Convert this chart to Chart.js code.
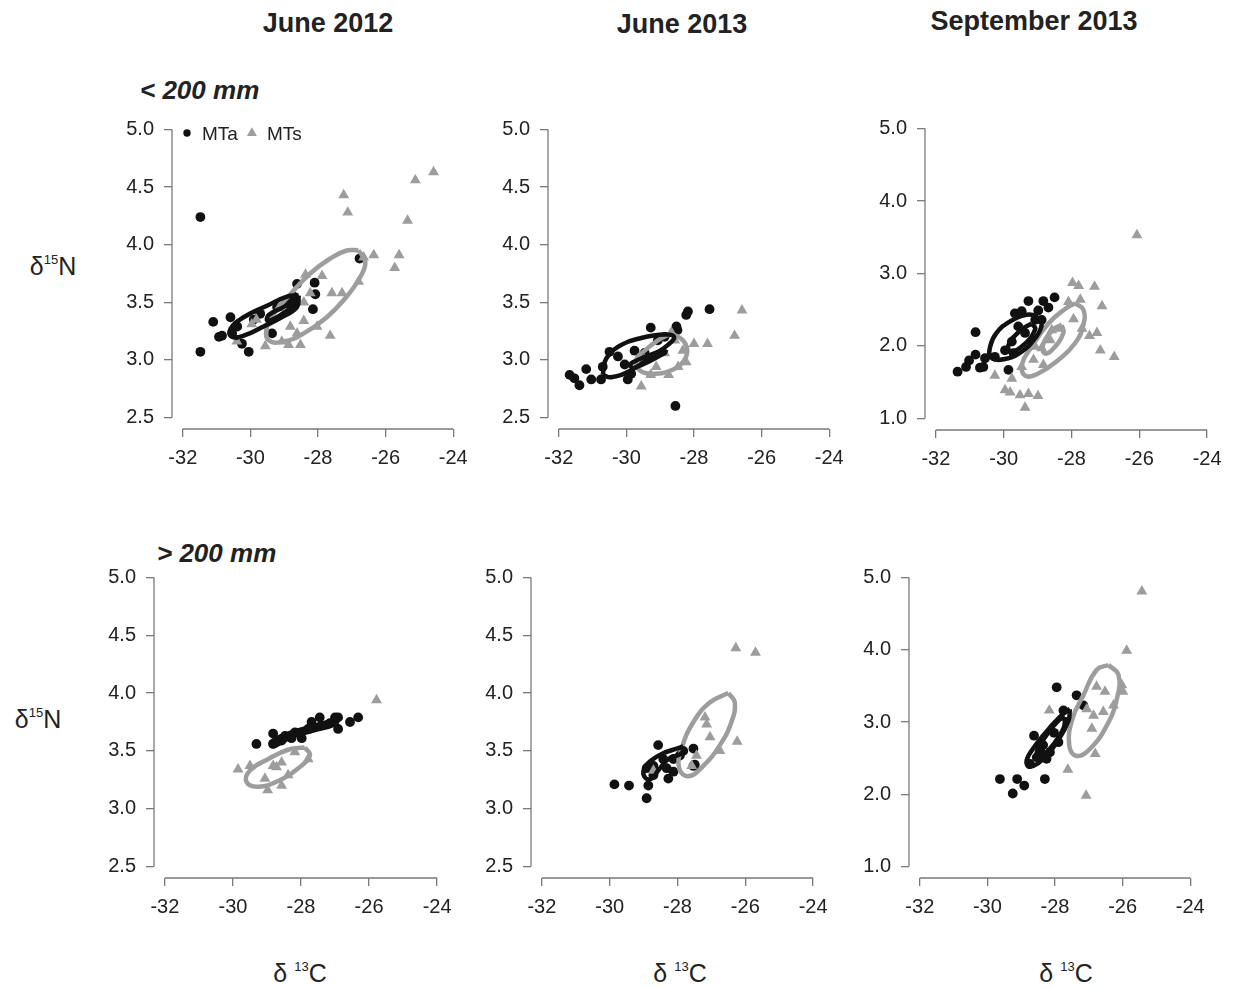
<!DOCTYPE html>
<html><head><meta charset="utf-8">
<script src="https://cdn.jsdelivr.net/npm/chart.js@4.4.0/dist/chart.umd.min.js"></script>
<style>
body{margin:0;background:#fff;width:1234px;height:989px;position:relative;overflow:hidden;font-family:"Liberation Sans",Arial,sans-serif;}
.t{position:absolute;white-space:nowrap;color:#222;transform:translate(-50%,-50%);line-height:1;}
.l{position:absolute;white-space:nowrap;color:#222;transform:translateY(-50%);line-height:1;}
canvas{position:absolute;}
sup{font-size:52%;vertical-align:0.8em;line-height:0;}
</style></head><body>

<div class="t" style="left:328px;top:23px;font-weight:bold;font-size:27px;">June 2012</div>
<div class="t" style="left:682px;top:24px;font-weight:bold;font-size:27px;">June 2013</div>
<div class="t" style="left:1034px;top:21px;font-weight:bold;font-size:27px;">September 2013</div>
<div class="l" style="left:140px;top:90px;font-weight:bold;font-style:italic;font-size:26px;">&lt; 200 mm</div>
<div class="l" style="left:157px;top:553px;font-weight:bold;font-style:italic;font-size:26px;">&gt; 200 mm</div>
<div class="t" style="left:53px;top:266px;font-size:25px;">δ<sup>15</sup>N</div>
<div class="t" style="left:38px;top:719px;font-size:25px;">δ<sup>15</sup>N</div>
<div class="t" style="left:300px;top:973px;font-size:25px;">δ <sup>13</sup>C</div>
<div class="t" style="left:680px;top:973px;font-size:25px;">δ <sup>13</sup>C</div>
<div class="t" style="left:1066px;top:973px;font-size:25px;">δ <sup>13</sup>C</div>

<canvas id="c1"></canvas><canvas id="c2"></canvas><canvas id="c3"></canvas>
<canvas id="c4"></canvas><canvas id="c5"></canvas><canvas id="c6"></canvas>

<script>
// ---------- tick labels ----------
const xTicks = [-32, -30, -28, -26, -24];
const yTicksHalf = [2.5, 3.0, 3.5, 4.0, 4.5, 5.0];
const yTicksOne = [1.0, 2.0, 3.0, 4.0, 5.0];
const seriesNames = ['MTa', 'MTs'];

// ---------- Panel 1: June 2012, < 200 mm ----------
const p1_MTa = [[-31.48,4.24],[-31.48,3.07],[-31.10,3.33],[-30.93,3.20],[-30.84,3.21],[-30.59,3.37],[-30.05,3.07],[-30.54,3.23],[-30.25,3.14],[-28.62,3.66],[-28.10,3.67],[-28.08,3.57],[-28.15,3.44],[-29.36,3.23],[-29.90,3.35],[-30.39,3.29],[-28.87,3.50],[-28.72,3.55],[-26.77,3.88],[-29.71,3.40],[-29.21,3.46]];
const p1_MTs = [[-24.58,4.63],[-25.12,4.56],[-27.24,4.43],[-27.12,4.28],[-25.35,4.21],[-26.35,3.91],[-25.60,3.91],[-25.73,3.80],[-26.65,3.89],[-27.88,3.73],[-28.37,3.74],[-28.23,3.58],[-27.59,3.58],[-27.29,3.58],[-26.80,3.68],[-28.42,3.34],[-28.03,3.29],[-27.64,3.21],[-29.56,3.12],[-28.87,3.13],[-28.52,3.13],[-29.07,3.16],[-30.40,3.16],[-29.96,3.31],[-29.82,3.35],[-28.82,3.29],[-29.16,3.45],[-28.42,3.50],[-28.62,3.23]];
const p1_MTa_ellipse = [[-28.57,3.56],[-28.62,3.46],[-29.01,3.38],[-29.61,3.29],[-30.20,3.21],[-30.55,3.20],[-30.59,3.27],[-30.20,3.37],[-29.51,3.47],[-28.92,3.55]];
const p1_MTs_ellipse = [[-26.80,3.95],[-26.60,3.85],[-26.75,3.72],[-27.15,3.55],[-27.74,3.37],[-28.42,3.23],[-29.01,3.16],[-29.46,3.17],[-29.51,3.29],[-29.31,3.40],[-28.82,3.57],[-28.23,3.75],[-27.64,3.88],[-27.15,3.95]];
const p1_MTa_inner = [[-28.62,3.53],[-28.70,3.48],[-29.16,3.38],[-29.49,3.34],[-29.46,3.39],[-29.01,3.46]];

// ---------- Panel 2: June 2013, < 200 mm ----------
const p2_MTa = [[-31.68,2.87],[-31.54,2.84],[-31.39,2.78],[-31.04,2.83],[-30.75,2.83],[-31.19,2.92],[-30.70,2.94],[-30.50,3.07],[-29.96,2.83],[-30.05,2.96],[-29.28,3.28],[-28.52,3.29],[-28.49,3.26],[-28.23,3.39],[-28.18,3.42],[-27.54,3.44],[-28.55,2.60],[-29.76,3.08],[-29.07,3.17],[-28.87,3.20],[-30.25,3.03],[-29.46,3.06],[-29.86,2.88]];
const p2_MTs = [[-26.58,3.43],[-26.80,3.21],[-27.60,3.14],[-28.00,3.14],[-28.23,2.98],[-29.56,2.77],[-29.28,2.87],[-28.75,2.87],[-28.47,2.94],[-28.67,3.24],[-28.33,3.08],[-28.87,3.06],[-29.12,2.94],[-28.57,3.17],[-29.46,3.00]];
const p2_MTa_ellipse = [[-30.70,2.87],[-30.60,3.01],[-30.15,3.13],[-29.56,3.19],[-28.87,3.22],[-28.59,3.20],[-28.77,3.13],[-29.26,3.03],[-29.86,2.91],[-30.45,2.85]];
const p2_MTs_ellipse = [[-28.67,3.23],[-28.33,3.17],[-28.20,3.08],[-28.33,2.98],[-28.67,2.91],[-29.17,2.88],[-29.61,2.91],[-29.71,3.00],[-29.46,3.08],[-29.07,3.17]];
const p2_MTa_inner = [[-28.82,3.09],[-28.87,3.06],[-29.76,2.93],[-29.88,2.95],[-29.81,2.98],[-28.97,3.08]];

// ---------- Panel 3: September 2013, < 200 mm ----------
const p3_MTa = [[-31.36,1.645],[-31.11,1.71],[-31.02,1.80],[-30.83,2.19],[-30.83,1.88],[-30.70,1.70],[-30.60,1.71],[-30.55,1.83],[-30.26,1.85],[-29.86,1.67],[-29.67,2.45],[-29.47,2.48],[-29.27,2.62],[-28.83,2.62],[-28.68,2.53],[-28.50,2.67],[-28.98,2.49],[-29.57,2.27],[-29.76,2.06],[-29.96,1.94],[-29.37,2.18],[-29.07,2.36],[-29.71,1.90],[-28.88,2.36]];
const p3_MTs = [[-26.07,3.53],[-27.97,2.87],[-27.79,2.83],[-27.32,2.82],[-27.10,2.55],[-27.25,2.18],[-27.47,2.14],[-27.15,1.94],[-26.74,1.85],[-28.09,2.61],[-27.74,2.64],[-27.94,2.37],[-27.69,2.24],[-28.33,2.24],[-28.63,2.08],[-29.07,1.99],[-28.88,1.97],[-29.12,1.81],[-28.83,1.74],[-30.26,1.59],[-29.76,1.55],[-29.96,1.39],[-29.81,1.36],[-29.52,1.32],[-29.27,1.34],[-28.99,1.31],[-29.37,1.15],[-29.47,1.71],[-28.58,2.22]];
const p3_MTa_ellipse = [[-28.98,2.41],[-28.88,2.29],[-29.07,2.11],[-29.47,1.92],[-29.96,1.82],[-30.37,1.84],[-30.40,1.99],[-30.21,2.18],[-29.81,2.34],[-29.32,2.43]];
const p3_MTs_ellipse = [[-27.89,2.59],[-27.65,2.50],[-27.65,2.29],[-27.89,2.04],[-28.38,1.81],[-28.98,1.62],[-29.37,1.59],[-29.45,1.76],[-29.17,1.99],[-28.68,2.31],[-28.19,2.51]];
const p3_MTa_inner = [[-29.17,2.31],[-29.07,2.23],[-29.42,2.01],[-29.78,1.92],[-29.86,2.01],[-29.52,2.21]];
const p3_MTs_inner = [[-28.29,2.29],[-28.24,2.18],[-28.56,1.95],[-28.80,1.90],[-28.83,2.03],[-28.53,2.23]];

// ---------- Panel 4: June 2012, > 200 mm ----------
const p4_MTa = [[-29.31,3.56],[-28.82,3.65],[-28.82,3.56],[-27.45,3.79],[-27.00,3.79],[-26.91,3.79],[-26.32,3.79],[-26.56,3.75],[-26.91,3.69],[-27.40,3.72],[-27.79,3.69],[-28.18,3.66],[-28.47,3.63],[-28.57,3.59],[-27.98,3.61],[-27.69,3.75],[-27.15,3.74],[-28.28,3.61]];
const p4_MTs = [[-25.78,3.94],[-29.85,3.34],[-29.50,3.37],[-28.98,3.16],[-28.57,3.20],[-28.82,3.37],[-28.57,3.40],[-27.79,3.43],[-29.06,3.26],[-28.38,3.29],[-28.72,3.36],[-28.18,3.49]];
const p4_MTa_ellipse = [[-26.89,3.78],[-27.00,3.73],[-27.59,3.68],[-28.28,3.62],[-28.82,3.54],[-28.87,3.58],[-28.38,3.65],[-27.69,3.71]];
const p4_MTs_ellipse = [[-27.89,3.53],[-27.74,3.46],[-28.08,3.35],[-28.67,3.24],[-29.26,3.19],[-29.60,3.23],[-29.50,3.33],[-28.96,3.43],[-28.38,3.51]];

// ---------- Panel 5: June 2013, > 200 mm ----------
const p5_MTa = [[-29.86,3.21],[-29.43,3.20],[-28.91,3.09],[-28.86,3.20],[-28.57,3.55],[-28.91,3.35],[-28.71,3.29],[-28.27,3.26],[-28.32,3.35],[-28.12,3.43],[-27.83,3.50],[-27.53,3.52],[-27.53,3.37],[-27.49,3.38],[-28.12,3.32],[-28.71,3.37],[-27.93,3.46],[-28.42,3.43]];
const p5_MTs = [[-26.28,4.39],[-25.70,4.35],[-27.14,3.73],[-27.04,3.62],[-26.24,3.58],[-26.75,3.50],[-27.44,3.46],[-27.58,3.37],[-28.71,3.33],[-27.19,3.79]];
const p5_MTa_ellipse = [[-27.83,3.54],[-27.88,3.48],[-28.27,3.43],[-28.57,3.33],[-28.76,3.26],[-28.96,3.27],[-28.98,3.35],[-28.76,3.42],[-28.42,3.48],[-28.12,3.51]];
const p5_MTs_ellipse = [[-26.50,4.00],[-26.31,3.92],[-26.41,3.75],[-26.75,3.55],[-27.24,3.37],[-27.68,3.28],[-27.95,3.35],[-27.88,3.52],[-27.53,3.75],[-27.04,3.92]];

// ---------- Panel 6: September 2013, > 200 mm ----------
const p6_MTa = [[-29.63,2.21],[-29.12,2.21],[-28.91,2.12],[-29.25,2.01],[-28.30,2.21],[-27.95,3.48],[-27.36,3.37],[-27.16,3.23],[-27.75,3.16],[-28.62,2.81],[-28.03,2.85],[-28.35,2.68],[-28.15,2.58],[-28.54,2.51],[-28.74,2.42],[-27.90,2.72],[-28.25,2.49],[-28.44,2.61]];
const p6_MTs = [[-25.43,4.81],[-25.88,3.99],[-26.02,3.51],[-25.99,3.42],[-26.77,3.49],[-26.52,3.42],[-26.57,3.14],[-26.86,3.09],[-26.91,2.91],[-26.81,2.56],[-27.62,2.34],[-27.08,1.98],[-28.17,3.16],[-27.06,3.18],[-26.27,3.23]];
const p6_MTa_ellipse = [[-27.56,3.18],[-27.60,3.02],[-27.90,2.75],[-28.30,2.51],[-28.74,2.38],[-28.84,2.47],[-28.54,2.70],[-28.10,2.95],[-27.70,3.14]];
const p6_MTs_ellipse = [[-26.42,3.79],[-26.12,3.65],[-26.17,3.32],[-26.47,2.95],[-26.96,2.63],[-27.36,2.53],[-27.58,2.68],[-27.48,3.05],[-27.16,3.37],[-26.77,3.72]];
const p6_MTa_inner = [[-27.70,3.07],[-27.75,2.91],[-28.15,2.63],[-28.47,2.51],[-28.54,2.58],[-28.25,2.82],[-27.90,3.02]];

// ---------- styling / layout ----------
const BLACK = '#111111', GRAY = '#9d9d9d', AXIS = '#7a7a7a', TEXT = '#222222';
const FONT = '"Liberation Sans", Arial, sans-serif';
const Wy = 80, Hx = 60, padTop = 30, padRight = 25;

const panels = [
  {id:'c1', mta:p1_MTa, mts:p1_MTs, ells:[[p1_MTa_ellipse,BLACK],[p1_MTa_inner,BLACK],[p1_MTs_ellipse,GRAY]], y:yTicksHalf, legend:true,  box:[172,118,292,311]},
  {id:'c2', mta:p2_MTa, mts:p2_MTs, ells:[[p2_MTa_ellipse,BLACK],[p2_MTa_inner,BLACK],[p2_MTs_ellipse,GRAY]], y:yTicksHalf, legend:false, box:[548,118,292,311]},
  {id:'c3', mta:p3_MTa, mts:p3_MTs, ells:[[p3_MTa_ellipse,BLACK],[p3_MTa_inner,BLACK],[p3_MTs_ellipse,GRAY],[p3_MTs_inner,GRAY]], y:yTicksOne, legend:false, box:[925,117,293,313]},
  {id:'c4', mta:p4_MTa, mts:p4_MTs, ells:[[p4_MTa_ellipse,BLACK],[p4_MTs_ellipse,GRAY]], y:yTicksHalf, legend:false, box:[154,566,294,312]},
  {id:'c5', mta:p5_MTa, mts:p5_MTs, ells:[[p5_MTa_ellipse,BLACK],[p5_MTs_ellipse,GRAY]], y:yTicksHalf, legend:false, box:[531,566,293,312]},
  {id:'c6', mta:p6_MTa, mts:p6_MTs, ells:[[p6_MTa_ellipse,BLACK],[p6_MTa_inner,BLACK],[p6_MTs_ellipse,GRAY]], y:yTicksOne, legend:false, box:[909,566,292,312]}
];

const toXY = arr => arr.map(p => ({x:p[0], y:p[1]}));
const closed = arr => toXY(arr.concat([arr[0]]));

// R-style detached axis line: drawn only from first to last tick
const rAxisLines = {
  id:'rAxisLines',
  afterDraw(chart){
    const ctx = chart.ctx, xs = chart.scales.x, ys = chart.scales.y;
    const xt = xs.ticks, yt = ys.ticks;
    ctx.save();
    ctx.strokeStyle = AXIS; ctx.lineWidth = 1.3;
    ctx.beginPath();
    ctx.moveTo(xs.getPixelForValue(xt[0].value), xs.top);
    ctx.lineTo(xs.getPixelForValue(xt[xt.length-1].value), xs.top);
    ctx.moveTo(ys.right, ys.getPixelForValue(yt[0].value));
    ctx.lineTo(ys.right, ys.getPixelForValue(yt[yt.length-1].value));
    ctx.stroke();
    ctx.restore();
  }
};

// one-row legend in the top-left corner of the plot region (R legend style)
const cornerLegend = {
  id:'cornerLegend',
  afterDraw(chart, args, opts){
    if (!opts || !opts.show) return;
    const ctx = chart.ctx, ca = chart.chartArea;
    let x = ca.left + 15;
    const y = ca.top + 15;
    ctx.save();
    ctx.font = '19px ' + FONT;
    ctx.textBaseline = 'middle';
    chart.data.datasets.filter(d => seriesNames.includes(d.label)).forEach(d => {
      ctx.fillStyle = d.backgroundColor;
      ctx.beginPath();
      if (d.pointStyle === 'triangle') {
        const r = 5.8;
        ctx.moveTo(x, y - r);
        ctx.lineTo(x + r * 0.866, y + r * 0.5);
        ctx.lineTo(x - r * 0.866, y + r * 0.5);
        ctx.closePath();
      } else {
        ctx.arc(x, y, 3.7, 0, Math.PI * 2);
      }
      ctx.fill();
      ctx.fillStyle = TEXT;
      ctx.fillText(d.label, x + 15, y + 2);
      x += 15 + ctx.measureText(d.label).width + 14;
    });
    ctx.restore();
  }
};

function ext(ticks){ // R's default 4% axis extension
  const lo = ticks[0], hi = ticks[ticks.length-1], d = (hi-lo)*0.04;
  return [lo-d, hi+d];
}

panels.forEach(p => {
  const cv = document.getElementById(p.id);
  const [L,T,W,H] = p.box;
  cv.width = Wy + W + padRight; cv.height = padTop + H + Hx;
  cv.style.left = (L - Wy) + 'px'; cv.style.top = (T - padTop) + 'px';
  cv.style.width = cv.width + 'px'; cv.style.height = cv.height + 'px';
  const [xmin,xmax] = ext(xTicks), [ymin,ymax] = ext(p.y);

  const datasets = [
    {label:seriesNames[0], data:toXY(p.mta), pointStyle:'circle', pointRadius:4.9, backgroundColor:BLACK, borderColor:BLACK, borderWidth:0, showLine:false, order:2},
    {label:seriesNames[1], data:toXY(p.mts), pointStyle:'triangle', pointRadius:6.3, backgroundColor:GRAY, borderColor:GRAY, borderWidth:0, showLine:false, order:1}
  ];
  p.ells.forEach(([pts,col]) => datasets.push({
    label:'ellipse', data:closed(pts), showLine:true, pointRadius:0, borderColor:col, backgroundColor:col,
    borderWidth:4.5, tension:0.45, fill:false, order:0
  }));

  new Chart(cv, {
    type:'scatter',
    data:{datasets},
    plugins:[rAxisLines, cornerLegend],
    options:{
      responsive:false, animation:false, devicePixelRatio:1, events:[],
      layout:{padding:{top:padTop, right:padRight, left:0, bottom:0}},
      plugins:{
        tooltip:{enabled:false},
        legend:{display:false},
        cornerLegend:{show:p.legend}
      },
      scales:{
        x:{
          type:'linear', min:xmin, max:xmax,
          afterBuildTicks:s => { s.ticks = xTicks.map(v => ({value:v})); },
          afterFit:s => { s.height = Hx; },
          border:{display:false},
          grid:{drawOnChartArea:false, drawTicks:true, tickLength:8, color:AXIS, lineWidth:1.3},
          ticks:{color:TEXT, font:{family:FONT, size:20}, padding:9, maxRotation:0, autoSkip:false, callback:v => String(v)}
        },
        y:{
          type:'linear', min:ymin, max:ymax,
          afterBuildTicks:s => { s.ticks = p.y.map(v => ({value:v})); },
          afterFit:s => { s.width = Wy; },
          border:{display:false},
          grid:{drawOnChartArea:false, drawTicks:true, tickLength:8, color:AXIS, lineWidth:1.3},
          ticks:{color:TEXT, font:{family:FONT, size:20}, padding:10, autoSkip:false, callback:v => Number(v).toFixed(1)}
        }
      }
    }
  });
});
</script>
</body></html>
